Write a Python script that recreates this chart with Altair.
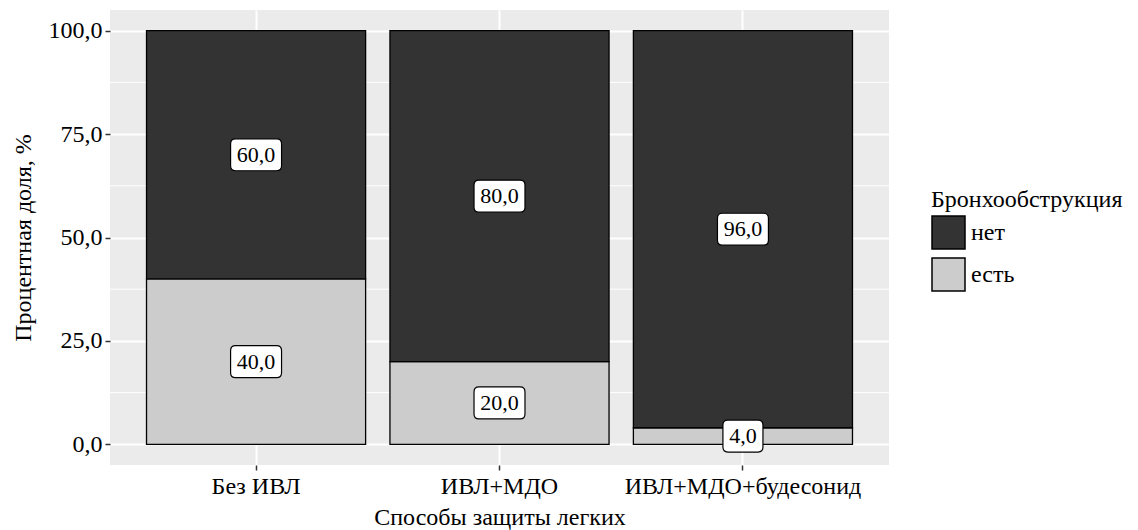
import altair as alt
import pandas as pd

methods = ["Без ИВЛ", "ИВЛ+МДО", "ИВЛ+МДО+будесонид"]
groups = ["нет", "есть"]
values_net = [60.0, 80.0, 96.0]
values_est = [40.0, 20.0, 4.0]
y_ticks = [0, 25, 50, 75, 100]
minor_ticks = [12.5, 37.5, 62.5, 87.5]

rows = []
for m, vn, ve in zip(methods, values_net, values_est):
    rows.append({"method": m, "group": "есть", "value": ve, "ord": 0, "mid": ve / 2})
    rows.append({"method": m, "group": "нет", "value": vn, "ord": 1, "mid": ve + vn / 2})
df = pd.DataFrame(rows)
df["label"] = df["value"].map(lambda v: f"{v:.1f}".replace(".", ","))
df["len"] = df["label"].str.len().astype(str)

FONT = "Liberation Serif, DejaVu Serif, serif"
FS = 24

def box_path(hw, hh, r):
    return (f"M {-hw + r} {-hh} L {hw - r} {-hh} Q {hw} {-hh} {hw} {-hh + r} "
            f"L {hw} {hh - r} Q {hw} {hh} {hw - r} {hh} L {-hw + r} {hh} "
            f"Q {-hw} {hh} {-hw} {hh - r} L {-hw} {-hh + r} Q {-hw} {-hh} {-hw + r} {-hh} Z")

wide = box_path(0.98, 0.615, 0.19)
narrow = box_path(0.77, 0.615, 0.19)

xscale = alt.Scale(domain=methods, paddingInner=0.1, paddingOuter=0.15)
yscale = alt.Scale(domain=[-5, 105], nice=False, zero=False)

base = alt.Chart(df)

minor = alt.Chart(pd.DataFrame({"v": minor_ticks})).mark_rule(
    color="white", strokeWidth=1
).encode(y=alt.Y("v:Q", scale=yscale))

bars = base.mark_bar(stroke="black", strokeWidth=1.3).encode(
    x=alt.X("method:N", scale=xscale, sort=methods,
            axis=alt.Axis(title="Способы защиты легких", labelAngle=0, grid=True,
                          gridColor="white", gridWidth=2, bandPosition=0.5,
                          domain=False, tickColor="#333333", tickSize=5, tickWidth=1.5,
                          labelFont=FONT, labelFontSize=FS, labelColor="black",
                          labelPadding=4, labelLimit=0, titleFont=FONT, titleFontSize=FS,
                          titleFontWeight="normal", titleColor="black", titleY=59,
                          titleBaseline="alphabetic")),
    y=alt.Y("value:Q", scale=yscale, stack="zero",
            axis=alt.Axis(title="Процентная доля, %", values=y_ticks,
                          labelExpr="replace(format(datum.value, '.1f'), '.', ',')",
                          grid=True, gridColor="white", gridWidth=2, domain=False,
                          tickColor="#333333", tickSize=5, tickWidth=1.5,
                          labelFont=FONT, labelFontSize=FS, labelColor="black",
                          labelPadding=3, titleFont=FONT, titleFontSize=FS,
                          titleFontWeight="normal", titleColor="black", titleX=-80,
                          titleBaseline="alphabetic")),
    color=alt.Color("group:N", scale=alt.Scale(domain=groups, range=["#333333", "#CCCCCC"]),
                    legend=alt.Legend(title="Бронхообструкция", orient="none",
                                      legendX=821, legendY=178,
                                      symbolType="square", symbolSize=1089,
                                      symbolStrokeColor="black", symbolStrokeWidth=1.5,
                                      titleFont=FONT, titleFontSize=FS, titleFontWeight="normal",
                                      titleColor="black", titleLimit=0, labelFont=FONT,
                                      labelFontSize=FS, labelLimit=0,
                                      labelColor="black", rowPadding=3, titlePadding=3,
                                      labelOffset=5)),
    order=alt.Order("ord:Q"),
)

boxes = base.mark_point(filled=True, fill="white", stroke="black", strokeWidth=1.2,
                        opacity=1, size=2704).encode(
    x=alt.X("method:N", scale=xscale, sort=methods),
    y=alt.Y("mid:Q", scale=yscale),
    shape=alt.Shape("len:N", scale=alt.Scale(domain=["4", "3"], range=[wide, narrow]), legend=None),
)

texts = base.mark_text(font=FONT, fontSize=22, color="black", baseline="middle").encode(
    x=alt.X("method:N", scale=xscale, sort=methods),
    y=alt.Y("mid:Q", scale=yscale),
    text="label:N",
)

chart = alt.layer(minor, bars, boxes, texts).properties(
    width=779, height=455,
    autosize=alt.AutoSizeParams(type="none"),
    padding={"left": 102, "top": 2, "right": 241, "bottom": 65},
).configure(background="white").configure_view(fill="#EBEBEB", strokeWidth=0)

chart.save("out.html", embed_options={"renderer": "svg", "actions": False})
